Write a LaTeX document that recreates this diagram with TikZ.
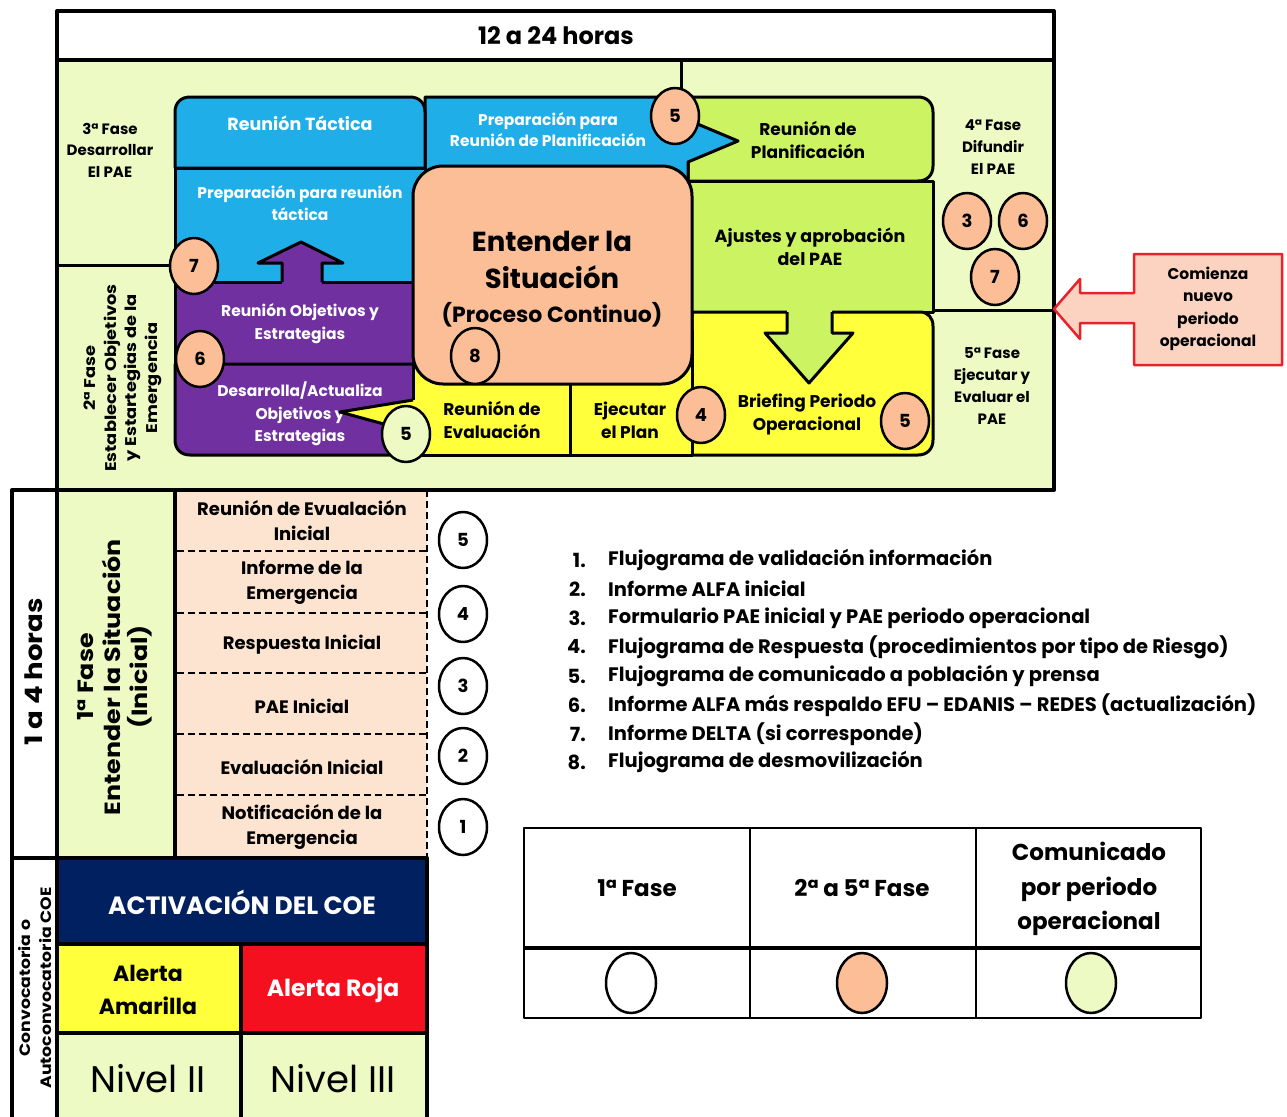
\documentclass[tikz,border=0pt]{standalone}
\usepackage{fontspec}
\setmainfont{Poppins}
\newfontfamily\rotfont{Poppins}[FakeStretch=1.15]
\usetikzlibrary{shapes.geometric}
\newcommand\fsz[2]{\fontsize{#1}{#2}\selectfont}
\definecolor{bgg}{HTML}{EDFAC3}
\definecolor{cLime}{HTML}{CCF462}
\definecolor{yel}{HTML}{FFFF3C}
\definecolor{tblue}{HTML}{1FAEE8}
\definecolor{tpurple}{HTML}{7030A0}
\definecolor{peach}{HTML}{FBBE96}
\definecolor{lpeach}{HTML}{FCE4D0}
\definecolor{navy}{HTML}{002060}
\definecolor{ared}{HTML}{F5101F}
\definecolor{cfill}{HTML}{FCD3C0}
\definecolor{cred}{HTML}{E8212B}
\begin{document}
\begin{tikzpicture}[x=1pt,y=-1pt,line join=round,
 txt/.style={align=center,inner sep=0pt,font=\fsz{17}{23}\bfseries},
 wtxt/.style={txt,text=white},
 num/.style={ellipse,draw=black,line width=2.5,minimum width=48,minimum height=56,inner sep=0pt,font=\fsz{18}{20}\bfseries},
 leg/.style={ellipse,draw=black,line width=2.5,minimum width=50,minimum height=60,inner sep=0pt},
 frame/.style={draw=black,line width=4},
 box/.style={draw=black,line width=3},
 dsh/.style={draw=black,line width=2,dash pattern=on 7 off 4},
 lst/.style={anchor=west,inner sep=0pt,font=\fsz{19.5}{22}\bfseries},
 lnum/.style={anchor=east,inner sep=0pt,font=\fsz{19.5}{22}\bfseries},
]
\useasboundingbox (0,0) rectangle (1287,1116);
\fill[white] (0,0) rectangle (1287,1116);

% ---------- top frame background
\fill[bgg] (57,60) rectangle (1054,490);
\draw[box] (681,60) -- (681,97);
\draw[box] (57,265) -- (175,265);
\draw[box] (933,310) -- (1054,310);

% ---------- right green / yellow boxes
\draw[box,fill=cLime] (688,97) -- (918,97) .. controls (927,97) and (933,103) .. (933,112) -- (933,166) .. controls (933,175) and (927,181) .. (918,181) -- (688,181) -- cycle;
\draw[box,fill=cLime] (688,181) rectangle (933,312);
\draw[box,fill=yel] (692,312) -- (920,312) .. controls (928,312) and (933,318) .. (933,326) -- (933,440) .. controls (933,449) and (927,455) .. (918,455) -- (692,455) -- cycle;

% ---------- blue prep planificacion with arrow
\draw[box,fill=tblue] (425,97) -- (688,97) -- (688,120) -- (738,141) -- (688,162) -- (688,182) -- (425,182) -- cycle;

% ---------- left blue / purple block
\draw[box,fill=tblue] (175,168) -- (175,112) .. controls (175,103) and (181,97) .. (190,97) -- (410,97) .. controls (419,97) and (425,103) .. (425,112) -- (425,168) -- cycle;
\draw[box,fill=tblue] (175,168) rectangle (425,282);
\draw[box,fill=tpurple] (175,282) rectangle (425,364);
\draw[box,fill=tpurple] (175,364) -- (425,364) -- (425,455) -- (190,455) .. controls (181,455) and (175,449) .. (175,440) -- cycle;

% ---------- yellow bottom middle
\draw[box,fill=yel] (413,330) rectangle (692,455);
\draw[box] (570,365) -- (570,455);

% ---------- block arrows
\fill[tpurple] (282,285) -- (282,263) -- (258,263) -- (301,242) -- (343,263) -- (322,263) -- (322,285) -- cycle;
\draw[box] (282,282) -- (282,263) -- (258,263) -- (301,242) -- (343,263) -- (322,263) -- (322,282);
\fill[cLime] (787,309) -- (787,333) -- (765,333) -- (809,383) -- (853,333) -- (832,333) -- (832,309) -- cycle;
\draw[box] (787,312) -- (787,333) -- (765,333) -- (809,383) -- (853,333) -- (832,333) -- (832,312);

% ---------- central peach
\draw[box,fill=peach,rounded corners=30] (413,166) rectangle (692,384);

% ---------- bottom-left phase 1
\draw[frame] (12,490) rectangle (57,858);
\fill[bgg] (57,490) rectangle (175,858);
\fill[lpeach] (177,490) rectangle (427,858);
\foreach \yy in {551,613,673,734,795} \draw[dsh] (177,\yy) -- (427,\yy);
\draw[dsh] (427,490) -- (427,858);
\draw[frame] (57,490) rectangle (175,858);

% ---------- top frame outline
\draw[frame] (57,11) rectangle (1054,490);
\draw[frame] (57,60) -- (1054,60);

% ---------- COE block
\draw[frame] (12,858) rectangle (57,1122);
\draw[frame,fill=navy] (57,858) rectangle (427,944);
\draw[frame,fill=yel] (57,944) rectangle (241,1033);
\draw[frame,fill=ared] (241,944) rectangle (427,1033);
\draw[frame,fill=bgg] (57,1033) rectangle (241,1122);
\draw[frame,fill=bgg] (241,1033) rectangle (427,1122);

% ---------- callout
\draw[draw=cred,line width=2.5,fill=cfill] (1134,254) -- (1282,254) -- (1282,365) -- (1134,365) -- (1134,323) -- (1080,323) -- (1080,339) -- (1054,309) -- (1080,279) -- (1080,293) -- (1134,293) -- cycle;

% ---------- legend table
\draw[line width=2] (524,828) rectangle (1201,1018);
\draw[line width=2] (750,828) -- (750,1018);
\draw[line width=2] (976,828) -- (976,1018);
\draw[line width=4] (524,948) -- (1201,948);

% ---------- texts
\node[txt,font=\fsz{24}{28}\bfseries] (hdr) at (556,36) {12 a 24 horas};
\node[txt,font=\fsz{15}{21.5}\bfseries] (f3) at (110,150) {3ª Fase\\Desarrollar\\El PAE};
\node[txt,font=\rotfont\fsz{15.5}{20.5}\bfseries,rotate=90] (f2) at (123,378) {2ª Fase\\Establecer Objetivos\\y Estartegias de la\\Emergencia};
\node[txt,font=\fsz{15}{22}\bfseries] (f4) at (993,147) {4ª Fase\\Difundir\\El PAE};
\node[txt,font=\fsz{15}{22}\bfseries] (f5) at (992,386) {5ª Fase\\Ejecutar y\\Evaluar el\\PAE};

\node[wtxt,font=\fsz{17.5}{23}\bfseries] (rt) at (300,123) {Reunión Táctica};
\node[wtxt,font=\fsz{15.5}{22}\bfseries] (prt) at (300,203) {Preparación para reunión\\táctica};
\node[wtxt,font=\fsz{15.5}{23}\bfseries] (rob) at (300,324) {Reunión Objetivos y\\Estrategias};
\node[wtxt,font=\fsz{15.5}{22.5}\bfseries] (dao) at (300,414) {Desarrolla/Actualiza\\Objetivos y\\Estrategias};
\node[wtxt,font=\fsz{15.5}{21}\bfseries] (ppl) at (548,130) {Preparación para\\Reunión de Planificación};
\node[txt] (rpl) at (808,140) {Reunión de\\Planificación};
\node[txt,font=\fsz{17.5}{23}\bfseries] (aju) at (810,247) {Ajustes y aprobación\\del PAE};
\node[txt] (bri) at (807,414) {Briefing Periodo\\Operacional};
\node[txt] (rev) at (492,420) {Reunión de\\Evaluación};
\node[txt] (eje) at (630,420) {Ejecutar\\el Plan};
\node[txt,font=\fsz{27.5}{37}\bfseries] (ent) at (552,260) {Entender la\\Situación};
\node[txt,font=\fsz{22}{26}\bfseries] (pco) at (552,315) {(Proceso Continuo)};

% yellow triangle (covers part of purple text)
\fill[yel] (415,400) -- (340,412) -- (415,432) -- cycle;
\draw[box] (413,400) -- (340,412) -- (413,432);

% callout text
\node[txt,font=\fsz{15.5}{22.5}\bfseries] (com) at (1208,309) {Comienza\\nuevo\\periodo\\operacional};

% phase 1 texts
\node[txt,font=\rotfont\fsz{24}{28}\bfseries,rotate=90] (h14) at (34,672) {1 a 4 horas};
\node[txt,font=\rotfont\fsz{22}{27}\bfseries,rotate=90] (f1) at (115,677) {1ª Fase\\Entender la Situación\\(Inicial)};
\node[txt,font=\fsz{18}{25}\bfseries] (r1) at (302,521) {Reunión de Evualación\\Inicial};
\node[txt,font=\fsz{18}{25}\bfseries] (r2) at (302,582) {Informe de la\\Emergencia};
\node[txt,font=\fsz{18}{25}\bfseries] (r3) at (302,645) {Respuesta Inicial};
\node[txt,font=\fsz{18}{25}\bfseries] (r4) at (302,706) {PAE Inicial};
\node[txt,font=\fsz{18}{25}\bfseries] (r5) at (302,767) {Evaluación Inicial};
\node[txt,font=\fsz{18}{25}\bfseries] (r6) at (302,827) {Notificación de la\\Emergencia};

% COE texts
\node[txt,font=\rotfont\fsz{15}{21}\bfseries,rotate=90] (conv) at (35,988) {Convocatoria o\\Autoconvocatoria COE};
\node[wtxt,font=\fsz{25}{28}\bfseries] (act) at (242,902) {ACTIVACIÓN DEL COE};
\node[txt,font=\fsz{22}{33}\bfseries] (aam) at (148,990) {Alerta\\Amarilla};
\node[wtxt,font=\fsz{23.5}{28}\bfseries] (aro) at (333,990) {Alerta Roja};
\node[txt,font=\fsz{37}{42}] (n2) at (148,1079) {Nivel II};
\node[txt,font=\fsz{37}{42}] (n3) at (333,1079) {Nivel III};

% list
\foreach \i/\yy/\tt in {1/560/Flujograma de validación información,
  2/589/Informe ALFA inicial,
  3/618/Formulario PAE inicial y PAE periodo operacional,
  4/647/Flujograma de Respuesta (procedimientos por tipo de Riesgo),
  5/676/Flujograma de comunicado a población y prensa,
  6/705/Informe ALFA más respaldo EFU – EDANIS – REDES (actualización),
  7/734/Informe DELTA (si corresponde),
  8/762/Flujograma de desmovilización} {
  \node[lnum] (ln\i) at (586,\yy) {\i.};
  \node[lst] (li\i) at (608,\yy) {\tt};
}

% legend texts
\node[txt,font=\fsz{23}{27}\bfseries] (lg1) at (637,888) {1ª Fase};
\node[txt,font=\fsz{23}{27}\bfseries] (lg2) at (862,888) {2ª a 5ª Fase};
\node[txt,font=\fsz{23}{34.5}\bfseries] (lg3) at (1089,889) {Comunicado\\por periodo\\operacional};
\node[leg,fill=white] (e1) at (631,983) {};
\node[leg,fill=peach] (e2) at (862,983) {};
\node[leg,fill=bgg] (e3) at (1091,983) {};

% ---------- numbered circles
\node[num,fill=peach] (c5a) at (675,116) {5};
\node[num,fill=peach] (c7a) at (194,266) {7};
\node[num,fill=peach] (c6a) at (200,359) {6};
\node[num,fill=bgg] (c5b) at (406,434) {5};
\node[num,fill=peach] (c8) at (475,356) {8};
\node[num,fill=peach] (c4a) at (701,415) {4};
\node[num,fill=peach] (c5c) at (905,421) {5};
\node[num,fill=peach] (c3a) at (967,221) {3};
\node[num,fill=peach] (c6b) at (1023,221) {6};
\node[num,fill=peach] (c7b) at (995,277) {7};
\node[num,fill=white] (w5) at (463,540) {5};
\node[num,fill=white] (w4) at (463,614) {4};
\node[num,fill=white] (w3) at (463,686) {3};
\node[num,fill=white] (w2) at (463,756) {2};
\node[num,fill=white] (w1) at (463,827) {1};
\end{tikzpicture}
\end{document}
